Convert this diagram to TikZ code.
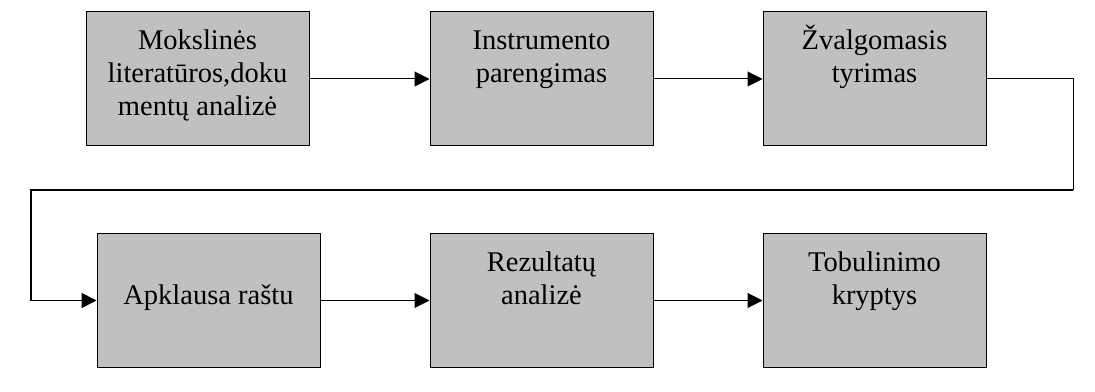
\documentclass[tikz,border=0pt]{standalone}
\usepackage{fontspec}
\setmainfont{Liberation Serif}
\usetikzlibrary{arrows.meta}
\definecolor{stagegray}{HTML}{C0C0C0}
\tikzset{>={Triangle[length=15pt,width=15pt]}}
\tikzset{stage/.style={draw=black, fill=stagegray, line width=1pt, minimum width=223pt, minimum height=134pt, inner sep=0pt}}
\newcommand{\stagetext}[1]{\parbox[c][134pt][t]{223pt}{\centering\fontsize{28.5}{33}\selectfont\rule{0pt}{38pt}#1\par}}

\begin{document}
\begin{tikzpicture}[x=1pt, y=1pt]
    \useasboundingbox (0,0) rectangle (1095,391);
    \node[stage] (lit) at (197.5,312) {\stagetext{Mokslinės\\literatūros,doku\\mentų analizė}};
    \node[stage] (instr) at (541.5,312) {\stagetext{Instrumento\\parengimas}};
    \node[stage] (zval) at (874.5,312) {\stagetext{Žvalgomasis\\tyrimas}};
    \node[stage] (apkl) at (208.5,90.5) {\stagetext{\mbox{}\\Apklausa raštu}};
    \node[stage] (rez) at (541.5,90.5) {\stagetext{Rezultatų\\analizė}};
    \node[stage] (tob) at (874.5,90.5) {\stagetext{Tobulinimo\\kryptys}};
    \coordinate (turnR) at (1073,201);
    \coordinate (turnL) at (31,201);
    \draw[->, line width=1pt] (lit) -- (instr);
    \draw[->, line width=1pt] (instr) -- (zval);
    \draw[line width=1pt] (zval.east) -| (turnR);
    \draw[->, line width=1.8pt] (turnR) -- (turnL) |- (apkl.west);
    \draw[->, line width=1pt] (apkl) -- (rez);
    \draw[->, line width=1pt] (rez) -- (tob);
\end{tikzpicture}
\end{document}
